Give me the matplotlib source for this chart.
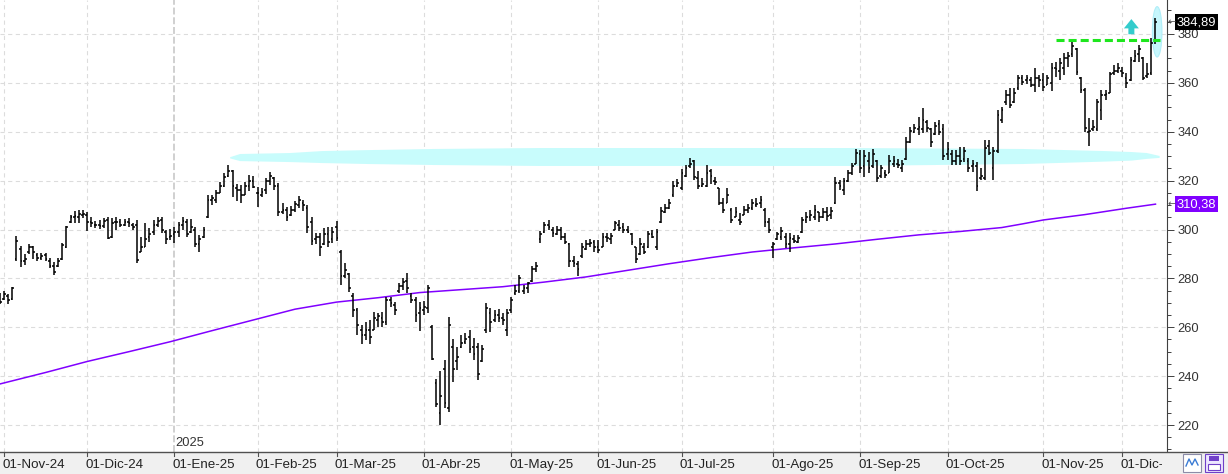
import numpy as np
import pandas as pd
import matplotlib
matplotlib.use("Agg")
import matplotlib.pyplot as plt
from matplotlib import transforms
from matplotlib.patches import Polygon, Ellipse, Rectangle
from matplotlib.lines import Line2D

plt.rcParams['font.family'] = ['Liberation Sans', 'DejaVu Sans']
plt.rcParams['lines.scale_dashes'] = False

# ---------------- data ----------------
holidays = ['2024-11-28', '2024-12-25', '2025-01-01', '2025-01-09', '2025-01-20',
            '2025-02-17', '2025-04-18', '2025-05-26', '2025-06-19', '2025-07-04',
            '2025-09-01', '2025-11-27']

open_ = [273,
    271.5, 273, 271.5, 288, 292, 287, 291, 293, 289.5, 288.5,
    289.5, 287, 285, 285, 288, 293, 303, 305, 305, 306,
    306, 303, 302, 302, 301.5, 304, 297, 303, 303, 302,
    303, 302, 302, 291, 293, 297, 299, 302, 304, 299,
    297, 298, 299, 302, 303, 299, 300, 294, 297, 305,
    312, 312, 315, 318, 322, 324, 317, 316, 314, 318,
    320, 315, 314, 316, 320, 321, 318, 307, 308, 306,
    308, 310, 311, 309, 303, 296, 297, 294, 298, 296,
    301, 291, 281, 282, 273, 267, 259, 257, 259, 259,
    263, 264, 262, 271, 269, 275, 277, 279, 273, 271,
    266, 267, 268, 260, 237, 225, 243, 227, 252, 246,
    252, 254, 256, 252, 252, 246, 259, 266, 263, 265,
    264, 259, 267, 274, 275, 275, 276, 279, 284, 296,
    299, 302, 300, 298, 300, 297, 294, 287, 286, 289,
    292, 294, 295, 293, 293, 297, 296, 300, 302, 301,
    300, 298, 293, 290, 293, 293, 298, 293, 303, 307,
    309, 314, 318, 317, 322, 326, 328, 321, 318, 318,
    324, 320, 317, 311, 311, 308, 305, 304, 306, 308,
    309, 310, 311, 308, 303, 293, 296, 297, 297, 294,
    296, 295, 299, 304, 305, 305, 307, 305, 307, 306,
    311, 319, 316, 320, 323, 327, 331, 326, 328, 326,
    328, 322, 323, 323, 327, 327, 325, 329, 336, 340,
    341, 341, 344, 341, 339, 343, 341, 331, 331, 328,
    330, 329, 328, 326, 326, 321, 321, 334, 325, 332,
    345, 352, 355, 352, 358, 362, 361, 361, 359, 362,
    361, 359, 360, 366, 365, 366, 370, 372, 374, 362,
    357, 340, 341, 341, 349, 355, 356, 364, 365, 365,
    362, 361, 369, 372, 370, 363, 364, 377]

high = [274,
    275, 273.5, 276.5, 297.5, 293.3, 290, 294, 293.3, 290.5, 290.3,
    290.5, 288.2, 286.8, 288.2, 294.3, 301.6, 306, 307.6, 308, 308,
    307.3, 305.3, 303.6, 303.9, 304.6, 305.3, 304.6, 305, 304.4, 304.2,
    304.6, 302.8, 303.9, 297.1, 302.8, 300.5, 303.9, 305, 305.3, 299.8,
    300.1, 300.9, 303.2, 305, 304.2, 304.3, 300.9, 297.8, 300.9, 314,
    314, 316.2, 319.6, 323, 326.4, 324.4, 318.6, 318.2, 319.6, 322.3,
    321.9, 317.5, 316.9, 321, 323.7, 321.4, 318.9, 311, 309.3, 309.6,
    311.7, 313.7, 312, 310, 305, 298.5, 298.7, 300.5, 300.9, 300.9,
    303.6, 291.6, 286.2, 282.1, 274.2, 267.8, 260.9, 262.3, 263, 266.4,
    265.7, 266.4, 272.5, 272.5, 270.5, 278.1, 280, 282.3, 273.9, 272.5,
    270.5, 270.8, 277.3, 260.9, 239, 242, 246.6, 264.3, 255.1, 252.1,
    256.8, 257.5, 258.9, 255.5, 253.4, 252.7, 269.8, 267.8, 267.1, 267.4,
    265.7, 267.4, 272.5, 277.3, 281.4, 277.3, 278.7, 285.1, 286.8, 299.5,
    303.2, 303.9, 300.9, 301.4, 300.9, 298.5, 294.4, 289, 287.2, 294.4,
    295.7, 296, 295.7, 295.7, 298.5, 298.5, 298.5, 303.6, 303.8, 302.5,
    301.4, 298.5, 293, 296.4, 294.4, 299.5, 299.8, 300.1, 309.1, 310.4,
    312.3, 320, 320.5, 324.6, 326.4, 329.1, 328.4, 324.1, 321, 326.4,
    324.6, 321.6, 317, 312.8, 316.9, 308.7, 309.3, 306.6, 309.6, 310.4,
    312.3, 312.8, 313.7, 308.7, 304.6, 295, 299.1, 300.9, 298.5, 298.5,
    297.8, 297.8, 305.3, 307.3, 308, 310, 307.3, 308.7, 309.3, 309.1,
    321.6, 320.3, 321, 324.4, 327.1, 332.8, 332.5, 332.5, 331.8, 333,
    328.4, 326.4, 324.4, 330.5, 330, 328.7, 328.4, 337.7, 342.1, 343.2,
    346.2, 349.6, 344.8, 341.4, 344, 344.8, 343, 336, 332.5, 332.5,
    333.9, 333.9, 329.1, 328.4, 327.8, 325, 336.6, 336.6, 333.9, 348.9,
    350.3, 357.1, 357.8, 357.8, 363.2, 363.2, 363.2, 362.3, 366, 363.2,
    363.9, 363.2, 368, 368.7, 370, 372.1, 372.8, 377.3, 374.1, 362.5,
    357.8, 345.5, 344.8, 353.3, 357.1, 357.1, 364.6, 367.3, 368.3, 366.6,
    363.9, 370.7, 373.5, 375.5, 370.5, 368, 378.2, 386.5]

low = [269.5,
    271, 269.5, 271, 287, 284.5, 285.5, 290, 288, 287.2, 287.5,
    287.3, 284.1, 281.4, 284.8, 287.5, 292.3, 302.5, 302.8, 302.8, 304.6,
    299.5, 301, 300.5, 300.1, 300.5, 296, 296.4, 299.8, 301, 301.4,
    301.2, 299.8, 286.2, 291, 292.7, 295, 297.8, 301, 298.7, 294.1,
    295.7, 294.3, 297.1, 299.8, 296.8, 298.5, 292.7, 291, 296.4, 304.6,
    310, 310.7, 314.8, 317.3, 321.4, 313.4, 311.8, 310.7, 314.1, 315.9,
    316.9, 309.1, 313.2, 314.5, 318.2, 316.2, 305.5, 306.4, 303.6, 305.5,
    307.3, 308.7, 307.7, 298.5, 293.7, 294.1, 289.2, 293.7, 293, 294.3,
    295.4, 277.3, 280, 274.6, 264.3, 256.8, 253.1, 254.8, 253.1, 258.9,
    260.2, 260.2, 260.9, 268.4, 265, 273.9, 275.3, 273.9, 269.8, 262.3,
    258.6, 265, 266, 246.6, 227.5, 220, 226.9, 225.5, 237.8, 242.5,
    251.4, 253.2, 249.3, 246.6, 238.4, 245.9, 257.5, 258.2, 262.3, 262.3,
    260.9, 256.4, 266, 273.2, 273.9, 273.6, 273.9, 278.7, 282.7, 294.6,
    298.5, 299.8, 296.8, 297.8, 295.7, 294.1, 284.8, 284.8, 281, 288.2,
    291.6, 293, 291, 290.3, 293, 295, 294.1, 299.8, 299.5, 298.7,
    298.5, 293.7, 286.2, 289.6, 290, 292.3, 296.4, 291.6, 302.8, 306.6,
    308.3, 313.4, 317.3, 316.2, 321.4, 325, 320.3, 316.5, 317.3, 317.5,
    318.6, 318.2, 310, 306.6, 310.7, 302.5, 305.3, 301.8, 306, 306.9,
    308, 309.1, 308.7, 301.2, 298.5, 288.2, 295.7, 295.7, 292.3, 291,
    294.4, 294.4, 298.5, 302.5, 303.6, 303.9, 303.2, 304.6, 303.6, 304.2,
    310.4, 316.2, 314.1, 319.6, 322.3, 326.8, 323, 321.4, 323, 325,
    319.6, 321, 321, 323, 325.7, 325, 323.7, 328.4, 335.3, 339.4,
    338.7, 339.4, 340, 333.9, 338.7, 338.7, 328.4, 328.4, 326.4, 326.4,
    326.4, 327.8, 323.7, 323.7, 315.9, 320.3, 320.3, 330.5, 320.3, 331.2,
    343.5, 351, 349.6, 351.6, 357.1, 359.1, 359.5, 358.4, 356.4, 358.4,
    356.8, 359.1, 356.8, 362.5, 361.2, 363.2, 366.6, 370.7, 363.2, 355.7,
    340, 334.2, 340.4, 340.4, 344.8, 353, 355.7, 363.2, 363.9, 362.3,
    357.8, 360.9, 368.7, 368.7, 361.2, 362, 363.3, 376]

close_ = [270.5,
    273.5, 271, 276, 295.5, 287, 288, 293, 291, 288.5, 289,
    288, 285, 282.5, 287, 293.5, 301, 305, 305.5, 306.5, 306.5,
    303, 302.5, 302, 301.5, 303.5, 296.5, 302.5, 303, 302, 303,
    302.5, 301, 287.5, 293, 296, 298, 302, 303.5, 300, 296,
    297.5, 299, 302, 303.5, 298, 301, 294, 296, 300, 312,
    313, 315, 318, 321.5, 324, 318, 316, 314, 318, 320,
    317.5, 315, 315.5, 320, 322, 318, 307, 308, 305, 308,
    310.5, 312, 310, 301, 295.5, 297, 293, 298, 295, 299,
    296.5, 281, 283.5, 276, 267, 261, 257, 259, 256, 264,
    264.5, 262, 271, 270, 267, 277, 278.5, 276, 271, 265,
    268, 268.5, 276, 247, 228.5, 232, 229, 261, 243, 248,
    253.5, 255, 251, 249, 241, 251, 268, 262, 265, 264,
    263, 266, 271, 275, 280, 276, 278, 284, 285, 298,
    302, 301, 298.5, 300, 297, 295, 287, 286.5, 284, 293,
    294, 294.5, 293, 291.5, 297, 296.5, 297.5, 302.5, 300.5, 300,
    299, 295, 288, 294, 291, 298, 297, 299, 307.5, 309,
    311, 318, 319, 323, 325, 327, 321.5, 318, 318.5, 323,
    322, 319.5, 311, 308, 314, 304, 307, 303, 308, 309,
    311, 310.5, 312, 303, 300, 294, 298, 299.5, 294, 296.5,
    295.5, 296.5, 304, 305, 306, 308, 305, 307, 305.5, 307.5,
    319, 318, 320, 323, 326, 331.5, 325, 330, 325, 331,
    321, 325, 322.5, 328, 328, 326.5, 327, 336, 340.5, 341.5,
    342, 345, 341.5, 336, 342.5, 340, 330, 333, 328, 330,
    328, 332, 325, 327, 318, 322, 333.5, 331.5, 332, 347,
    349, 355, 351, 356, 362, 360.5, 362, 359, 362, 361,
    358.5, 362, 366, 365.5, 368, 370, 371, 375, 364.5, 357,
    341.5, 340.5, 342, 352, 355, 355.5, 363.5, 365, 366, 364,
    360, 369.5, 371, 374, 362, 363.5, 376.5, 384.89]

# 200-session moving average, read at selected sessions (bar number)
ma_bar = [0, 11, 21, 31, 41, 51, 61, 71, 81, 91, 101, 111, 121, 131, 141, 151, 161,
          171, 181, 191, 201, 211, 221, 231, 241, 246, 251, 256, 261, 266, 271, 278]
ma_val = [236.8, 241.5, 246.0, 250.0, 254.1, 258.6, 263.0, 267.4, 270.3, 272.1,
          274.2, 275.4, 276.6, 278.5, 280.6, 283.3, 286.0, 288.5, 290.8, 292.5,
          294.1, 296.0, 297.8, 299.2, 300.8, 302.3, 303.9, 305.0, 306.1, 307.4,
          308.7, 310.38]

# highlighted zone (bar number, upper, lower)
zone_bar = [55.4, 57.8, 69.8, 77.5, 88.6, 104.2, 129.9, 204.5, 246.1, 265.9, 272.3, 275.9, 279.0]
zone_top = [329.6, 330.9, 331.3, 332.1, 332.5, 332.95, 333.35, 333.35, 332.95, 332.1, 331.7, 331.3, 330.1]
zone_bot = [329.1, 328.0, 327.6, 327.2, 326.8, 326.4, 326.0, 326.0, 326.8, 327.8, 328.2, 328.9, 329.3]

resistance = 377.4
last_price = 384.89
ma_last = 310.38
yticks = [220, 240, 260, 280, 300, 320, 340, 360, 380]
month_abbr = {1: 'Ene', 2: 'Feb', 3: 'Mar', 4: 'Abr', 5: 'May', 6: 'Jun',
              7: 'Jul', 8: 'Ago', 9: 'Sep', 10: 'Oct', 11: 'Nov', 12: 'Dic'}

# ---------------- figure ----------------
W, H = 1228, 474
n = len(close_)
dates = pd.bdate_range('2024-10-31', '2025-12-11', freq='C', holidays=holidays)[:n]
pos = np.arange(n)
O = np.array(open_); Hh = np.array(high); Lw = np.array(low); Cc = np.array(close_)

PX = 4.157            # pixels per session
band_h = 22
plot_r = 1167

fig = plt.figure(figsize=(W / 100, H / 100), dpi=100)
fig.patch.set_facecolor('white')
ax = fig.add_axes([0, band_h / H, plot_r / W, (H - band_h) / H])
x0 = 1 - 4 / PX
ax.set_xlim(x0, x0 + plot_r / PX)
ax.set_ylim(380 - (452 - 34) / 2.444, 380 + 34 / 2.444)
ax.set_facecolor('white')

for s in ['top', 'left', 'bottom']:
    ax.spines[s].set_visible(False)
ax.spines['right'].set_color('#404040')
ax.spines['right'].set_linewidth(0.8)
ax.yaxis.tick_right()
ax.set_yticks(yticks)
ax.set_yticks(np.arange(210, 395, 5), minor=True)
ax.tick_params(axis='y', which='major', direction='out', length=5, width=0.7,
               colors='#404040', labelsize=9.3, pad=2.5, labelcolor='#333333')
ax.tick_params(axis='y', which='minor', direction='out', length=3, width=0.7, colors='#404040')
ax.set_xticks([])

# month boundaries
first_of_month = []
for (yy, mm), grp in pd.Series(pos, index=dates).groupby([dates.year, dates.month]):
    d0 = dates[grp.iloc[0]]
    if d0.day <= 7:
        first_of_month.append((grp.iloc[0], yy, mm))

for ytk in yticks:
    ax.axhline(ytk, color='#dcdcdc', lw=0.8, dashes=(3, 2.5), zorder=0)
for p, yy, mm in first_of_month:
    if yy == 2025 and mm == 1:
        ax.axvline(p, color='#c4c4c4', lw=1.1, dashes=(5, 2), zorder=0)
        ax.text(p + 0.1, 0.006, '2025', transform=transforms.blended_transform_factory(ax.transData, ax.transAxes),
                fontsize=9.3, color='#333333', ha='left', va='bottom')
    else:
        ax.axvline(p, color='#dcdcdc', lw=0.8, dashes=(3, 2.5), zorder=0)

# highlighted zone
zx = list(zone_bar) + list(zone_bar[::-1])
zy = list(zone_top) + list(zone_bot[::-1])
ax.add_patch(Polygon(np.column_stack([zx, zy]), closed=True, fc='#c8fcfc', ec='none', zorder=1))

# ellipse around last bar
ax.add_patch(Ellipse((pos[-1] + 0.4, 380.9), 2.3, 20.6, fc='#c6f6fc', ec='#b0eef8', lw=0.8, zorder=1))

# moving average
ax.plot(ma_bar, ma_val, color='#8000ff', lw=1.1, zorder=2)

# OHLC bars
tick = 0.42
ax.vlines(pos, Lw, Hh, color='black', lw=1.1, zorder=3)
ax.hlines(O, pos - tick, pos, color='black', lw=1.1, zorder=3)
ax.hlines(Cc, pos, pos + tick, color='black', lw=1.1, zorder=3)

# resistance line
ax.plot([254.0, 279.1], [resistance, resistance], color='#1ee61e', lw=2.2, dashes=(5.8, 2.9),
        solid_capstyle='butt', zorder=4)

# up arrow
ax_c = 272.2
arrow = [(ax_c, 386.1), (ax_c + 1.8, 382.3), (ax_c + 0.72, 382.3), (ax_c + 0.72, 379.9),
         (ax_c - 0.72, 379.9), (ax_c - 0.72, 382.3), (ax_c - 1.8, 382.3)]
ax.add_patch(Polygon(arrow, closed=True, fc='#33cccc', ec='none', zorder=4))

# price boxes on the right axis
bt = transforms.blended_transform_factory(ax.transAxes, ax.transData)
ax.text(1177 / plot_r, last_price, '384,89', transform=bt, fontsize=9.3, color='white',
        ha='left', va='center', clip_on=False, zorder=10,
        bbox=dict(boxstyle='square,pad=0.15', fc='black', ec='none'))
ax.text(1167.5 / plot_r, last_price, '\u2190', transform=bt, fontsize=7, color='#555555',
        ha='left', va='center', clip_on=False, family='DejaVu Sans', zorder=11)
ax.text(1177 / plot_r, ma_last, '310,38', transform=bt, fontsize=9.3, color='white',
        ha='left', va='center', clip_on=False, zorder=10,
        bbox=dict(boxstyle='square,pad=0.15', fc='#8000ff', ec='none'))
ax.text(1167.5 / plot_r, ma_last, '\u2190', transform=bt, fontsize=7, color='#555555',
        ha='left', va='center', clip_on=False, family='DejaVu Sans', zorder=11)

# bottom date band
axb = fig.add_axes([0, 0, 1, band_h / H])
axb.set_facecolor('#f0f0f0')
axb.set_xticks([]); axb.set_yticks([])
for s in ['left', 'right', 'bottom']:
    axb.spines[s].set_visible(False)
axb.spines['top'].set_color('#505050')
axb.spines['top'].set_linewidth(1.0)

label_r = 1162
axl = fig.add_axes([0, 0, label_r / W, band_h / H])
axl.patch.set_alpha(0)
xl = ax.get_xlim()
axl.set_xlim(xl[0], xl[0] + label_r / PX); axl.set_ylim(0, 1)
axl.set_axis_off()
for p, yy, mm in first_of_month:
    axl.plot([p, p], [1, 0.8], color='#505050', lw=0.8)
    axl.text(p - 0.45, 0.42, f"01-{month_abbr[mm]}-{yy % 100:02d}", fontsize=9.6, color='#222222',
             ha='left', va='center', clip_on=True)

# small icons bottom-right
fig.patches.append(Rectangle((1183 / W, 2 / H), 18 / W, 18 / H, transform=fig.transFigure,
                             fc='white', ec='#8c8ca8', lw=0.8))
fig.lines.append(Line2D([1186 / W, 1189 / W, 1192 / W, 1195 / W, 1198 / W],
                        [8 / H, 15 / H, 9 / H, 15 / H, 9 / H], transform=fig.transFigure,
                        color='#3a7bd5', lw=1.0))
fig.patches.append(Rectangle((1205 / W, 2 / H), 18 / W, 18 / H, transform=fig.transFigure,
                             fc='#ece6ff', ec='#7040c8', lw=0.8))
fig.patches.append(Rectangle((1208 / W, 4 / H), 12 / W, 6 / H, transform=fig.transFigure,
                             fc='white', ec='#7040c8', lw=0.8))
fig.patches.append(Rectangle((1209 / W, 13 / H), 10 / W, 5 / H, transform=fig.transFigure,
                             fc='#7040c8', ec='none'))

fig.savefig('out.png', dpi=100)
